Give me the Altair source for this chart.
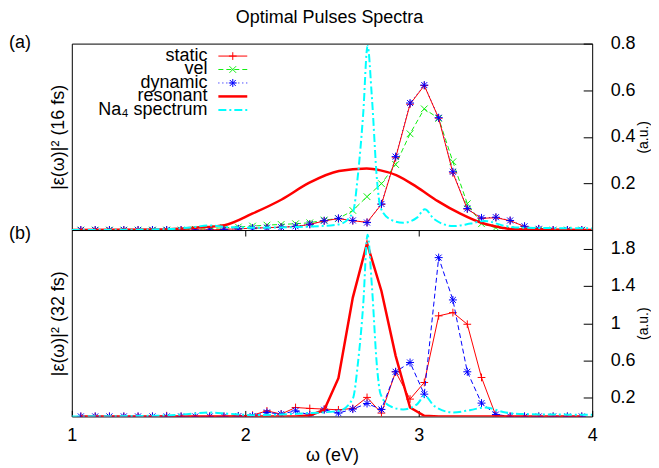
import altair as alt
import pandas as pd

# ---------------- data ----------------
omega = [1.052, 1.135, 1.217, 1.300, 1.382, 1.465, 1.547, 1.630, 1.712, 1.795,
         1.877, 1.960, 2.042, 2.125, 2.207, 2.290, 2.372, 2.455, 2.537, 2.620,
         2.702, 2.785, 2.867, 2.950, 3.032, 3.115, 3.197, 3.280, 3.362, 3.445,
         3.527, 3.610, 3.692, 3.775, 3.857, 3.940]

top_static = [0, 0, 0, 0, 0, 0, 0, 0, 0, 0,
              0.003, 0.005, 0.008, 0.010, 0.012, 0.015, 0.024, 0.039, 0.049, 0.040,
              0.033, 0.110, 0.310, 0.540, 0.620, 0.480, 0.245, 0.090, 0.050, 0.053,
              0.040, 0.015, 0.005, 0, 0, 0]
top_vel = [0, 0, 0, 0, 0, 0, 0, 0, 0.003, 0.006,
           0.010, 0.013, 0.017, 0.021, 0.024, 0.027, 0.031, 0.043, 0.049, 0.084,
           0.143, 0.199, 0.281, 0.413, 0.520, 0.479, 0.293, 0.113, 0.027, 0.010,
           0.003, 0, 0, 0, 0, 0]
top_dynamic = [0, 0, 0, 0, 0, 0, 0, 0, 0, 0,
               0.003, 0.005, 0.008, 0.010, 0.012, 0.016, 0.025, 0.040, 0.050, 0.041,
               0.032, 0.112, 0.315, 0.545, 0.622, 0.482, 0.250, 0.092, 0.052, 0.055,
               0.041, 0.016, 0.005, 0, 0, 0]
top_res_x = [1.0, 1.5, 1.71, 1.88, 2.04, 2.21, 2.37, 2.54, 2.70, 2.78, 2.87,
             2.99, 3.11, 3.24, 3.36, 3.48, 3.55, 4.0]
top_res_y = [0, 0.002, 0.010, 0.021, 0.070, 0.131, 0.203, 0.253, 0.264, 0.256,
             0.236, 0.184, 0.124, 0.070, 0.031, 0.010, 0.003, 0]

na_x = [1.0, 1.5, 1.70, 1.79, 1.90, 2.04, 2.30, 2.54, 2.62, 2.65, 2.68, 2.705,
        2.73, 2.76, 2.78, 2.835, 2.91, 2.99, 3.035, 3.09, 3.20, 3.30, 3.38,
        3.50, 3.60, 4.0]
top_na_y = [0.0, 0.003, 0.012, 0.020, 0.012, 0.010, 0.013, 0.024, 0.074, 0.24,
            0.50, 0.79, 0.57, 0.21, 0.096, 0.046, 0.031, 0.053, 0.089, 0.046,
            0.017, 0.028, 0.039, 0.017, 0.010, 0.007]
bot_na_y = [0.0, 0.008, 0.030, 0.043, 0.030, 0.014, 0.030, 0.060, 0.19, 0.58,
            1.20, 1.95, 1.40, 0.52, 0.24, 0.11, 0.075, 0.13, 0.22, 0.11,
            0.043, 0.07, 0.096, 0.043, 0.025, 0.018]

bot_static = [0, 0, 0, 0, 0, 0, 0.008, 0, 0, 0,
              0, 0.005, 0.014, 0.060, 0.025, 0.096, 0.086, 0.079, 0.071, 0.086,
              0.204, 0.036, 0.479, 0.186, 0.364, 1.079, 1.114, 0.989, 0.418, 0.007,
              0, 0, 0, 0, 0, 0]
bot_dynamic = [0, 0, 0, 0, 0, 0, 0, 0, 0, 0,
               0, 0.003, 0.005, 0.043, 0.025, 0.060, 0.014, 0.071, 0.036, 0.079,
               0.139, 0.075, 0.479, 0.579, 0.239, 1.704, 1.250, 0.479, 0.143, 0.021,
               0, 0, 0, 0, 0, 0]
bot_resonant = [0, 0, 0, 0, 0, 0, 0, 0, 0, 0,
                0, 0, 0, 0, 0, 0, 0.010, 0.070, 0.410, 1.275,
                1.857, 1.346, 0.650, 0.096, 0.007, 0, 0, 0, 0, 0,
                0, 0, 0, 0, 0, 0]

top_yticks = [0.2, 0.4, 0.6, 0.8]
bot_yticks = [0.2, 0.6, 1.0, 1.4, 1.8]
x_ticks = [1, 2, 3, 4]
inner_x_ticks = [2, 3]

legend_labels = ["static", "vel", "dynamic", "resonant", "Na\u2084 spectrum"]
legend_rows = [0.7465, 0.6888, 0.631, 0.5733, 0.5155]

# ---------------- styling ----------------
FONT = "Liberation Sans"
FS = 18
W, H = 522, 187
RED, GREEN, BLUE, CYAN = "#ff0000", "#11ee11", "#0000ff", "#00ffff"
PLUS = "M-1,0L1,0M0,-1L0,1"
CROSS = "M-1,-1L1,1M-1,1L1,-1"
STAR = "M-1,0L1,0M0,-1L0,1M-0.75,-0.75L0.75,0.75M-0.75,0.75L0.75,-0.75"

xscale = alt.Scale(domain=[1, 4], nice=False, zero=False)


def enc(chart, ys, xaxis=None, yaxis=None):
    return chart.encode(
        x=alt.X("x:Q", scale=xscale, axis=xaxis),
        y=alt.Y("y:Q", scale=ys, axis=yaxis),
    )


def line(x, y, ys, color, width, dash=None, interp="linear", xaxis=None, yaxis=None):
    kw = dict(color=color, stroke=color, strokeWidth=width, interpolate=interp, clip=True)
    if dash:
        kw["strokeDash"] = dash
    return enc(alt.Chart(pd.DataFrame({"x": x, "y": y})).mark_line(**kw), ys, xaxis, yaxis)


def points(x, y, ys, color, shape, size, xaxis=None, yaxis=None):
    return enc(alt.Chart(pd.DataFrame({"x": x, "y": y})).mark_point(
        shape=shape, filled=False, size=size, color=color, stroke=color,
        strokeWidth=1, opacity=1, clip=True), ys, xaxis, yaxis)


def left_axis(title):
    return alt.Axis(orient="left", title=title, labels=False, ticks=False,
                    domain=False, grid=False, titlePadding=4)


def right_axis(values):
    return alt.Axis(orient="right", values=values, format="~g", title="(a.u.)",
                    titleAngle=270, titleFontSize=14, offset=-9, tickSize=9,
                    domain=False, grid=False, labelPadding=18, titlePadding=15)


def tag(text, yv):
    return alt.Chart(pd.DataFrame({"t": [text]})).mark_text(
        align="left", baseline="middle", font=FONT, fontSize=FS, color="black"
    ).encode(x=alt.value(-63), y=alt.value(yv), text="t:N")


# ---------------- top panel ----------------
ys_top = alt.Scale(domain=[0, 0.8], nice=False)
top_layers = [
    line(omega, top_vel, ys_top, GREEN, 1, dash=[5, 3],
         yaxis=left_axis("|\u03b5(\u03c9)|\u00b2 (16 fs)")),
    points(omega, top_vel, ys_top, GREEN, CROSS, 45, yaxis=right_axis(top_yticks)),
    line(omega, top_dynamic, ys_top, BLUE, 1, dash=[1, 3]),
    line(omega, top_static, ys_top, RED, 1),
    points(omega, top_static, ys_top, RED, PLUS, 60),
    points(omega, top_dynamic, ys_top, BLUE, STAR, 64),
    line(top_res_x, top_res_y, ys_top, RED, 2.5, interp="monotone"),
    line(na_x, top_na_y, ys_top, CYAN, 2, dash=[8, 3, 2, 3], interp="monotone"),
]

# legend drawn in data coordinates of the top panel
leg_text_x, leg_x1, leg_x2, leg_mx = 1.7816, 1.845, 2.0115, 1.928
top_layers.append(
    alt.Chart(pd.DataFrame({"x": [leg_text_x] * 5, "y": legend_rows, "t": legend_labels}))
    .mark_text(align="right", baseline="middle", font=FONT, fontSize=FS, color="black")
    .encode(x=alt.X("x:Q", scale=xscale, axis=None),
            y=alt.Y("y:Q", scale=ys_top, axis=None), text="t:N")
)
leg_styles = [
    (RED, 1, None, PLUS, 60),
    (GREEN, 1, [5, 3], CROSS, 45),
    (BLUE, 1, [1, 3], STAR, 64),
    (RED, 2.5, None, None, 0),
    (CYAN, 2, [8, 3, 2, 3], None, 0),
]
for (col, w, dash, shp, sz), yv in zip(leg_styles, legend_rows):
    kw = dict(color=col, stroke=col, strokeWidth=w)
    if dash:
        kw["strokeDash"] = dash
    top_layers.append(
        alt.Chart(pd.DataFrame({"x": [leg_x1], "x2": [leg_x2], "y": [yv]}))
        .mark_rule(**kw)
        .encode(x=alt.X("x:Q", scale=xscale, axis=None), x2="x2:Q",
                y=alt.Y("y:Q", scale=ys_top, axis=None))
    )
    if shp:
        top_layers.append(points([leg_mx], [yv], ys_top, col, shp, sz))
top_layers.append(tag("(a)", -1))

top = alt.layer(*top_layers).resolve_axis(x="independent", y="independent").properties(width=W, height=H)

# ---------------- bottom panel ----------------
ys_bot = alt.Scale(domain=[0, 2], nice=False)
bottom_axis = alt.Axis(orient="bottom", values=x_ticks, format="d", offset=-6,
                       tickSize=6, domain=False, grid=False, labelPadding=10,
                       labelFlush=False, title="\u03c9 (eV)", titlePadding=2)
top_tick_axis = alt.Axis(orient="top", values=inner_x_ticks, labels=False,
                         offset=-6, tickSize=6, domain=False, grid=False, title=None)
bot_layers = [
    line(omega, bot_static, ys_bot, RED, 1, xaxis=bottom_axis,
         yaxis=left_axis("|\u03b5(\u03c9)|\u00b2 (32 fs)")),
    points(omega, bot_static, ys_bot, RED, PLUS, 60, yaxis=right_axis(bot_yticks)),
    line(omega, bot_dynamic, ys_bot, BLUE, 1, dash=[5, 3]),
    points(omega, bot_dynamic, ys_bot, BLUE, STAR, 64),
    line(omega, bot_resonant, ys_bot, RED, 2.5, xaxis=top_tick_axis),
    line(na_x, bot_na_y, ys_bot, CYAN, 2, dash=[8, 3, 2, 3], interp="monotone"),
    tag("(b)", 4),
]
bottom = alt.layer(*bot_layers).resolve_axis(x="independent", y="independent").properties(width=W, height=H)

chart = (
    alt.vconcat(top, bottom, spacing=0, bounds="flush")
    .properties(
        title=alt.TitleParams("Optimal Pulses Spectra", font=FONT, fontSize=FS,
                              fontWeight="normal", color="black", anchor="middle", offset=6),
        padding={"left": 0, "top": 0, "right": 0, "bottom": 0},
    )
    .configure_view(stroke="black", strokeWidth=1)
    .configure_axis(labelFont=FONT, titleFont=FONT, labelFontSize=FS, titleFontSize=FS,
                    labelColor="black", titleColor="black", tickColor="black",
                    titleFontWeight="normal", grid=False)
)

chart.save("out.html", embed_options={"renderer": "svg", "actions": False})
